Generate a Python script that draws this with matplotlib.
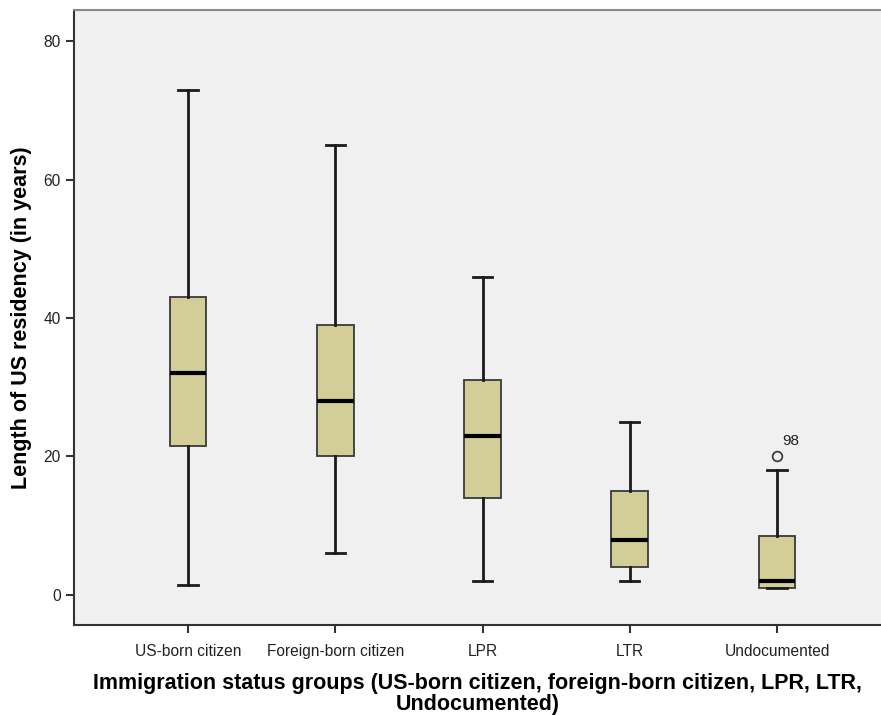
import matplotlib
matplotlib.use("Agg")
import matplotlib.pyplot as plt

plt.rcParams['font.family'] = ['Liberation Sans', 'DejaVu Sans']

# Immigration status groups and their residency-length summaries (years)
groups = ["US-born citizen", "Foreign-born citizen", "LPR", "LTR", "Undocumented"]
whisker_low = [1.5, 6, 2, 2, 1]
q1 = [21.5, 20, 14, 4, 1]
median = [32, 28, 23, 8, 2]
q3 = [43, 39, 31, 15, 8.5]
whisker_high = [73, 65, 46, 25, 18]
outliers = [[], [], [], [], [20]]
outlier_ids = [[], [], [], [], ["98"]]

y_ticks = [0, 20, 40, 60, 80]

stats = []
for i, g in enumerate(groups):
    stats.append(dict(label=g, whislo=whisker_low[i], q1=q1[i], med=median[i],
                      q3=q3[i], whishi=whisker_high[i], fliers=outliers[i]))

fig = plt.figure(figsize=(8.81, 7.15), dpi=100)
ax = fig.add_axes([0.084, 0.126, 0.916, 0.860])
ax.set_facecolor("#f0f0f0")

positions = list(range(1, len(groups) + 1))
ax.bxp(stats, positions=positions, widths=0.25, patch_artist=True,
       showfliers=True,
       boxprops=dict(facecolor="#d3ce97", edgecolor="#3a3a3a", linewidth=1.3),
       medianprops=dict(color="black", linewidth=3),
       whiskerprops=dict(color="#1a1a1a", linewidth=2),
       capprops=dict(color="#1a1a1a", linewidth=2),
       capwidths=0.13,
       flierprops=dict(marker="o", markersize=7, markerfacecolor="none",
                       markeredgecolor="#333333", markeredgewidth=1.2))

for pos, vals, ids in zip(positions, outliers, outlier_ids):
    for v, lab in zip(vals, ids):
        ax.annotate(lab, (pos, v), xytext=(4, 8), textcoords="offset points",
                    fontsize=11, color="#222222")

ax.set_xlim(0.226, 5.706)
ax.set_ylim(-4.33, 84.5)
ax.set_yticks(y_ticks)
ax.set_xticks(positions)
ax.set_xticklabels(groups)

ax.tick_params(axis="both", direction="out", length=6, width=1.5,
               colors="#333333", labelsize=11.2, labelcolor="#222222")
ax.tick_params(axis="x", pad=8)

for side in ["left", "bottom"]:
    ax.spines[side].set_color("#333333")
    ax.spines[side].set_linewidth(1.5)
ax.spines["top"].set_color("#888888")
ax.spines["top"].set_linewidth(1.5)
ax.spines["right"].set_visible(False)

ax.set_ylabel("Length of US residency (in years)", fontsize=15.5,
              fontweight="bold", labelpad=8)
ax.set_xlabel("Immigration status groups (US-born citizen, foreign-born citizen, LPR, LTR,\nUndocumented)",
              fontsize=15.5, fontweight="bold", labelpad=10, linespacing=1.0)

fig.savefig("out.png", dpi=100)
